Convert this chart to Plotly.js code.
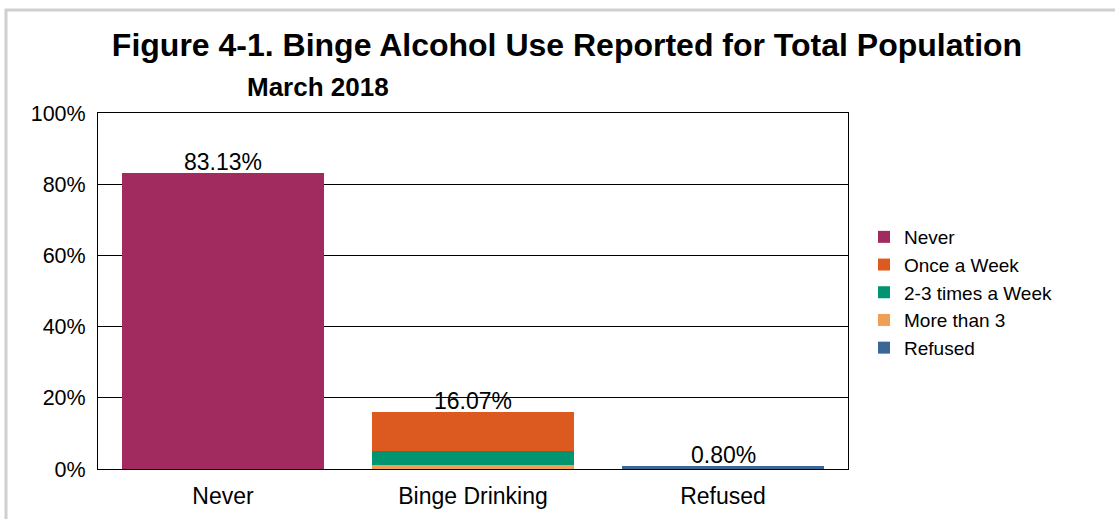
<!DOCTYPE html>
<html>
<head>
<meta charset="utf-8">
<script src="https://cdn.plot.ly/plotly-3.0.1.min.js"></script>
<style>html,body{margin:0;padding:0;background:#fff;}#chart{width:1115px;height:519px;}</style>
</head>
<body>
<div id="chart"></div>
<script>
// Data
const categories = ["Never", "Binge Drinking", "Refused"];
const seriesNames = ["Never", "Once a Week", "2-3 times a Week", "More than 3", "Refused"];
const seriesCategory = ["Never", "Binge Drinking", "Binge Drinking", "Binge Drinking", "Refused"];
const seriesValues = [83.13, 11.07, 4.00, 1.00, 0.80];
const seriesColors = ["#A12B5F", "#DC5A20", "#009570", "#F0A050", "#3B6698"];
const totalLabels = ["83.13%", "16.07%", "0.80%"];
const totalValues = [83.13, 16.07, 0.80];

const FONT = "Liberation Sans, Arial, sans-serif";

// Stack order (bottom to top): Never, More than 3, 2-3 times, Once a Week, Refused
const stackOrder = [0, 3, 2, 1, 4];
const traces = stackOrder.map(i => ({
  type: "bar",
  name: seriesNames[i],
  x: [seriesCategory[i]],
  y: [seriesValues[i]],
  marker: {color: seriesColors[i], line: {width: 0}},
  legendrank: i + 1,
  hoverinfo: "name+y"
}));

const annotations = categories.map((c, i) => ({
  x: c, y: totalValues[i], xref: "x", yref: "y",
  text: totalLabels[i], showarrow: false,
  yanchor: "bottom", yshift: -4,
  font: {family: FONT, size: 23, color: "#000"}
}));
annotations.push({
  text: "<b>March 2018</b>", xref: "paper", yref: "paper",
  x: (318 - 98) / 750, y: (469 - 87) / 356, xanchor: "center", yanchor: "middle",
  showarrow: false, font: {family: FONT, size: 26, color: "#000"}
});

const layout = {
  width: 1115, height: 519,
  margin: {l: 98, r: 267, t: 113, b: 50},
  paper_bgcolor: "#fff", plot_bgcolor: "#fff",
  barmode: "stack", bargap: 0.19,
  title: {
    text: "<b>Figure 4-1. Binge Alcohol Use Reported for Total Population</b>",
    x: 567 / 1115, xanchor: "center", xref: "container",
    y: 1 - 45 / 519, yanchor: "middle", yref: "container",
    font: {family: FONT, size: 32, color: "#000"}
  },
  xaxis: {
    categoryorder: "array", categoryarray: categories,
    showline: true, linecolor: "#000", linewidth: 1, mirror: true,
    ticks: "", ticklabelstandoff: 6,
    tickfont: {family: FONT, size: 23, color: "#000"},
    fixedrange: true
  },
  yaxis: {
    range: [0, 100], dtick: 20, ticksuffix: "%",
    showgrid: true, gridcolor: "#000", gridwidth: 1,
    showline: true, linecolor: "#000", linewidth: 1, mirror: true,
    zeroline: false, ticks: "", ticklabelstandoff: 7,
    tickfont: {family: FONT, size: 21.5, color: "#000"},
    fixedrange: true
  },
  legend: {
    x: (864 - 98) / 750, y: (469 - 218) / 356, xanchor: "left", yanchor: "top",
    traceorder: "normal",
    font: {family: FONT, size: 19, color: "#000"},
    bgcolor: "rgba(0,0,0,0)", itemwidth: 30, tracegroupgap: 0
  },
  annotations: annotations,
  shapes: [{
    type: "rect", xref: "paper", yref: "paper",
    x0: (6 - 98) / 750, x1: 2, y0: -1, y1: (469 - 10) / 356,
    line: {color: "#CFCFCF", width: 3}, fillcolor: "rgba(0,0,0,0)", layer: "below"
  }],
  showlegend: true
};

Plotly.newPlot("chart", traces, layout, {displayModeBar: false, staticPlot: true});
</script>
</body>
</html>
